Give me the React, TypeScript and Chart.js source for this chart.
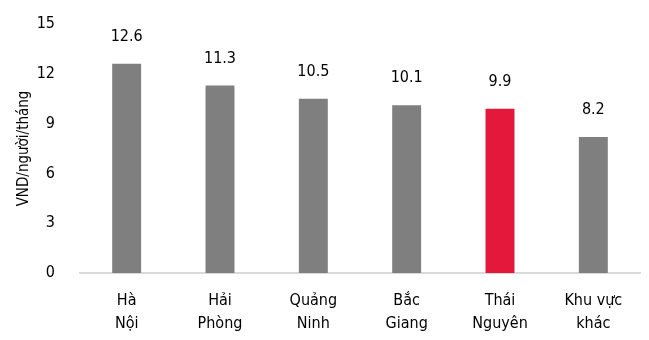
import React, { useEffect, useRef } from "react";
import { Chart, registerables } from "chart.js";

Chart.register(...registerables);

const categories: string[][] = [
  ["Hà", "Nội"],
  ["Hải", "Phòng"],
  ["Quảng", "Ninh"],
  ["Bắc", "Giang"],
  ["Thái", "Nguyên"],
  ["Khu vực", "khác"],
];
const values: number[] = [12.6, 11.3, 10.5, 10.1, 9.9, 8.2];
const barColors: string[] = ["#7F7F7F", "#7F7F7F", "#7F7F7F", "#7F7F7F", "#E4183A", "#7F7F7F"];
const yTicks: number[] = [0, 3, 6, 9, 12, 15];
const yTitle = "VND/người/tháng";

const FONT = "'Liberation Sans Narrow', 'Arial Narrow', 'DejaVu Sans Condensed', sans-serif";

const valueLabels = {
  id: "valueLabels",
  afterDatasetsDraw(chart: any) {
    const ctx = chart.ctx;
    const meta = chart.getDatasetMeta(0);
    ctx.save();
    ctx.font = `16px ${FONT}`;
    ctx.fillStyle = "#000";
    ctx.textAlign = "center";
    ctx.textBaseline = "bottom";
    meta.data.forEach((el: any, i: number) => {
      ctx.fillText(values[i].toFixed(1), el.x, el.y - 19);
    });
    ctx.restore();
  },
};

export default function App() {
  const ref = useRef<HTMLCanvasElement | null>(null);
  useEffect(() => {
    document.body.style.margin = "0";
    const chart = new Chart(ref.current as HTMLCanvasElement, {
      type: "bar",
      data: {
        labels: categories as any,
        datasets: [
          {
            data: values,
            backgroundColor: barColors,
            barPercentage: 0.31,
            categoryPercentage: 1,
          },
        ],
      },
      options: {
        animation: false,
        responsive: false,
        maintainAspectRatio: false,
        layout: { padding: { top: 24, right: 9, left: 0, bottom: 0 } },
        plugins: { legend: { display: false }, tooltip: { enabled: false } },
        scales: {
          x: {
            grid: { display: false, drawTicks: false },
            border: { display: true, color: "#D9D9D9", width: 2 },
            ticks: {
              color: "#000",
              font: { family: FONT, size: 16, lineHeight: 1.4 },
              padding: 17,
              maxRotation: 0,
              autoSkip: false,
            },
            afterFit(scale: any) {
              scale.height = 67;
            },
          },
          y: {
            min: 0,
            max: 15,
            afterBuildTicks(scale: any) {
              scale.ticks = yTicks.map((v) => ({ value: v }));
            },
            grid: { display: false, drawTicks: false },
            border: { display: false },
            ticks: {
              color: "#000",
              font: { family: FONT, size: 16 },
              padding: 25,
            },
            title: {
              display: true,
              text: yTitle,
              color: "#000",
              font: { family: FONT, size: 15 },
              padding: { top: 15, bottom: 0 },
            },
            afterFit(scale: any) {
              scale.width = 80;
              scale.paddingTop = 0;
              scale.paddingBottom = 0;
            },
          },
        },
      },
      plugins: [valueLabels],
    });
    return () => chart.destroy();
  }, []);
  return (
    <div style={{ position: "fixed", left: 0, top: 0, width: 649, height: 340 }}>
      <canvas ref={ref} width={649} height={340} style={{ width: 649, height: 340 }} />
    </div>
  );
}
